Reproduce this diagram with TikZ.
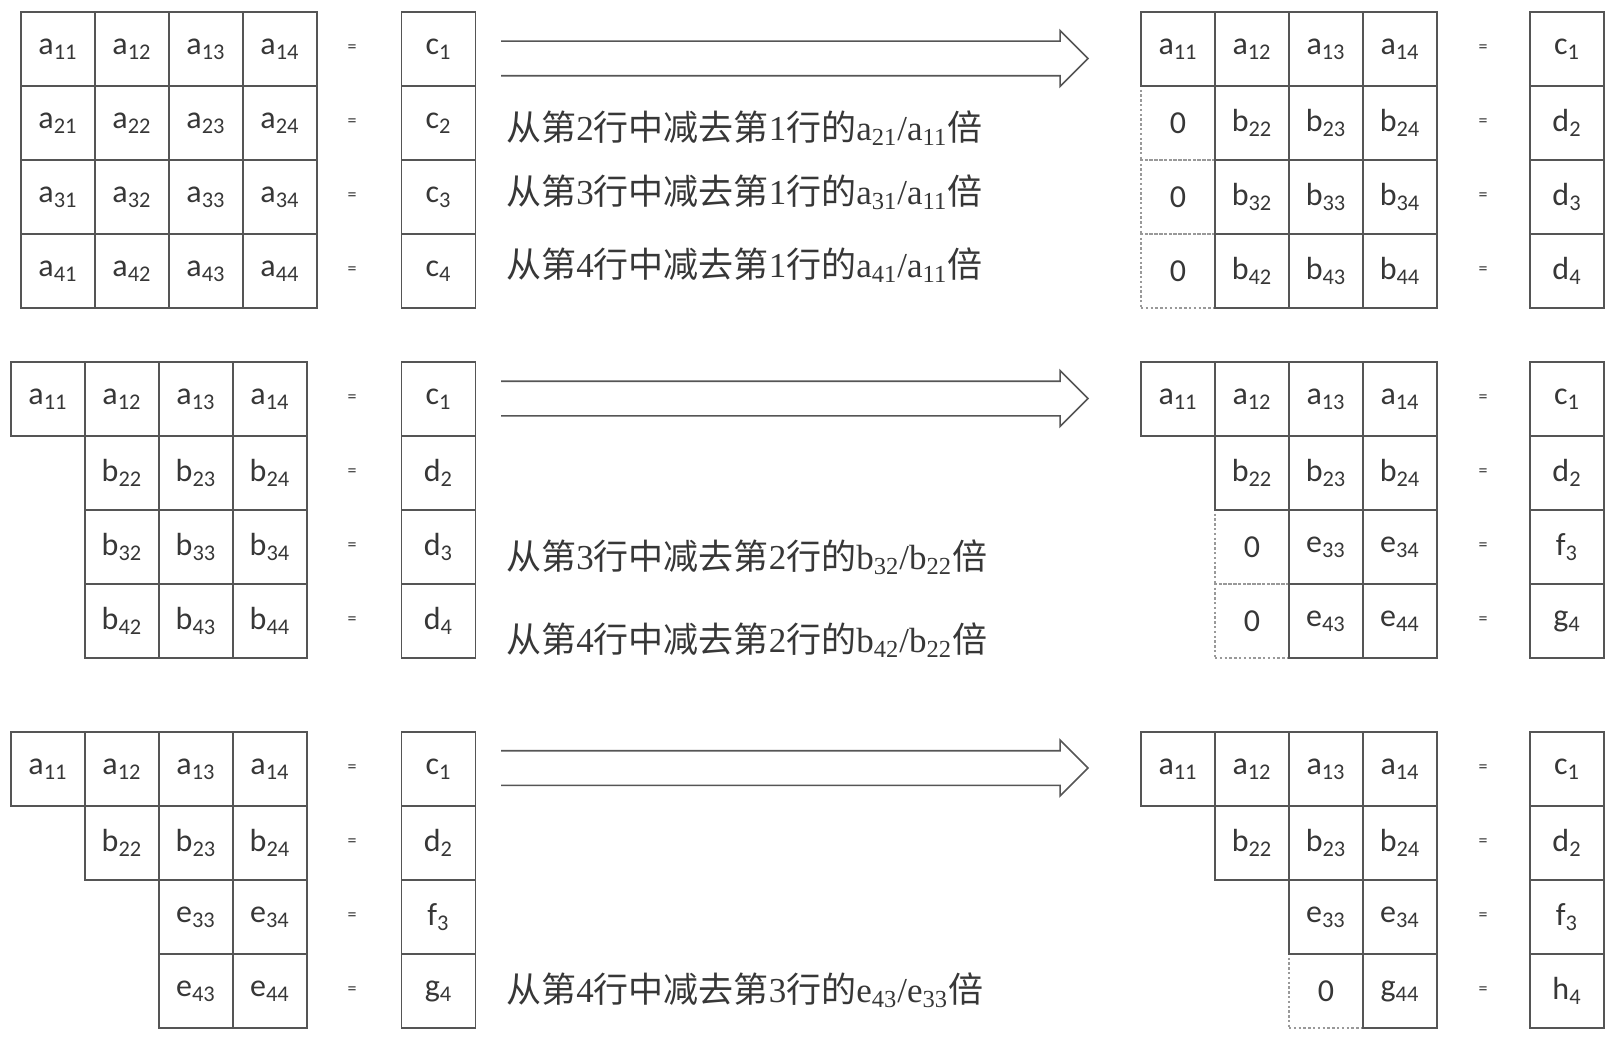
\documentclass[tikz,border=0pt]{standalone}
\usepackage{fontspec}
\setmainfont{Liberation Serif}
\newfontfamily\cellfont{Carlito}
\newfontfamily\cjk{Noto Sans CJK SC}
\usepackage{tikz}
\usetikzlibrary{shapes.arrows, positioning}
\definecolor{linegray}{RGB}{85,85,85}
\definecolor{inkgray}{RGB}{55,55,55}
\newcommand{\zh}[1]{{\cjk #1}}

\begin{document}
\begin{tikzpicture}[
    x=0.5pt, y=-0.5pt,
    cell/.style={draw=linegray, line width=0.9pt, minimum size=37pt, inner sep=0pt, text=inkgray, font=\cellfont\fontsize{16}{18}\selectfont},
    zero/.style={cell, draw=black!40, line width=0.6pt, dash pattern=on 1.2pt off 1.2pt},
    eqsign/.style={inner sep=0pt, text=inkgray, font=\cellfont\fontsize{9}{10}\selectfont},
    rowop/.style={anchor=west, inner sep=0pt, text=inkgray, font=\fontsize{17.5}{20}\selectfont},
    bigarrow/.style={single arrow, minimum height=293pt, minimum width=26.5pt, single arrow head extend=5pt, inner xsep=0pt, inner ysep=8.25pt},
    outline/.style={draw=linegray, line width=0.8pt, line join=miter}
]
    \useasboundingbox (0,0) rectangle (1616,1038);

    % top left: the full system
    \foreach \i in {1,...,4}
        \foreach \j in {1,...,4}
            \node[cell] (tl-\i\j) at ({21+74*\j-37},{12+74*\i-37}) {a\textsubscript{\i\j}};
    \foreach \i/\v in {1/c,2/c,3/c,4/c} {
        \node[eqsign] (tl-e\i) at (352,{12+74*\i-37}) {=};
        \node[cell] (tl-r\i) at (438.5,{12+74*\i-37}) {\v\textsubscript{\i}};
    }

    % top right: first column cleared
    \foreach \i in {2,3,4}
        \node[zero] (tr-\i1) at (1178,{12+74*\i-37}) {0};
    \foreach \i/\l/\s in {1/a/1,2/b/2,3/b/2,4/b/2}
        \foreach \j in {\s,...,4}
            \node[cell] (tr-\i\j) at ({1141+74*\j-37},{12+74*\i-37}) {\l\textsubscript{\i\j}};
    \foreach \i/\v in {1/c,2/d,3/d,4/d} {
        \node[eqsign] (tr-e\i) at (1483,{12+74*\i-37}) {=};
        \node[cell] (tr-r\i) at (1567,{12+74*\i-37}) {\v\textsubscript{\i}};
    }

    \node[rowop] (op21) at (506,128) {\zh{从第}2\zh{行中减去第}1\zh{行的}a\textsubscript{21}/a\textsubscript{11}\zh{倍}};
    \node[rowop] (op31) at (506,192) {\zh{从第}3\zh{行中减去第}1\zh{行的}a\textsubscript{31}/a\textsubscript{11}\zh{倍}};
    \node[rowop] (op41) at (506,265) {\zh{从第}4\zh{行中减去第}1\zh{行的}a\textsubscript{41}/a\textsubscript{11}\zh{倍}};

    % middle left
    \foreach \i/\l/\s in {1/a/1,2/b/2,3/b/2,4/b/2}
        \foreach \j in {\s,...,4}
            \node[cell] (ml-\i\j) at ({11+74*\j-37},{362+74*\i-37}) {\l\textsubscript{\i\j}};
    \foreach \i/\v in {1/c,2/d,3/d,4/d} {
        \node[eqsign] (ml-e\i) at (352,{362+74*\i-37}) {=};
        \node[cell] (ml-r\i) at (438.5,{362+74*\i-37}) {\v\textsubscript{\i}};
    }

    % middle right: second column cleared
    \foreach \i in {3,4}
        \node[zero] (mr-\i2) at (1252,{362+74*\i-37}) {0};
    \foreach \i/\l/\s in {1/a/1,2/b/2,3/e/3,4/e/3}
        \foreach \j in {\s,...,4}
            \node[cell] (mr-\i\j) at ({1141+74*\j-37},{362+74*\i-37}) {\l\textsubscript{\i\j}};
    \foreach \i/\v in {1/c,2/d,3/f,4/g} {
        \node[eqsign] (mr-e\i) at (1483,{362+74*\i-37}) {=};
        \node[cell] (mr-r\i) at (1567,{362+74*\i-37}) {\v\textsubscript{\i}};
    }

    \node[rowop] (op32) at (506,557) {\zh{从第}3\zh{行中减去第}2\zh{行的}b\textsubscript{32}/b\textsubscript{22}\zh{倍}};
    \node[rowop] (op42) at (506,640) {\zh{从第}4\zh{行中减去第}2\zh{行的}b\textsubscript{42}/b\textsubscript{22}\zh{倍}};

    % bottom left
    \foreach \i/\l/\s in {1/a/1,2/b/2,3/e/3,4/e/3}
        \foreach \j in {\s,...,4}
            \node[cell] (bl-\i\j) at ({11+74*\j-37},{732+74*\i-37}) {\l\textsubscript{\i\j}};
    \foreach \i/\v in {1/c,2/d,3/f,4/g} {
        \node[eqsign] (bl-e\i) at (352,{732+74*\i-37}) {=};
        \node[cell] (bl-r\i) at (438.5,{732+74*\i-37}) {\v\textsubscript{\i}};
    }

    % bottom right: triangular
    \node[zero] (br-43) at (1326,991) {0};
    \foreach \i/\l/\s in {1/a/1,2/b/2,3/e/3,4/g/4}
        \foreach \j in {\s,...,4}
            \node[cell] (br-\i\j) at ({1141+74*\j-37},{732+74*\i-37}) {\l\textsubscript{\i\j}};
    \foreach \i/\v in {1/c,2/d,3/f,4/h} {
        \node[eqsign] (br-e\i) at (1483,{732+74*\i-37}) {=};
        \node[cell] (br-r\i) at (1567,{732+74*\i-37}) {\v\textsubscript{\i}};
    }

    \node[rowop] (op43) at (506,990) {\zh{从第}4\zh{行中减去第}3\zh{行的}e\textsubscript{43}/e\textsubscript{33}\zh{倍}};

    % hollow arrows, open at the tail
    \foreach \k/\y in {1/58.5,2/398.5,3/768} {
        \node[bigarrow] (arr\k) at (786,\y) {};
        \draw[outline] (arr\k.after tail) -- (arr\k.before head) -- (arr\k.before tip) -- (arr\k.tip)
            -- (arr\k.after tip) -- (arr\k.after head) -- (arr\k.before tail);
    }
\end{tikzpicture}
\end{document}
